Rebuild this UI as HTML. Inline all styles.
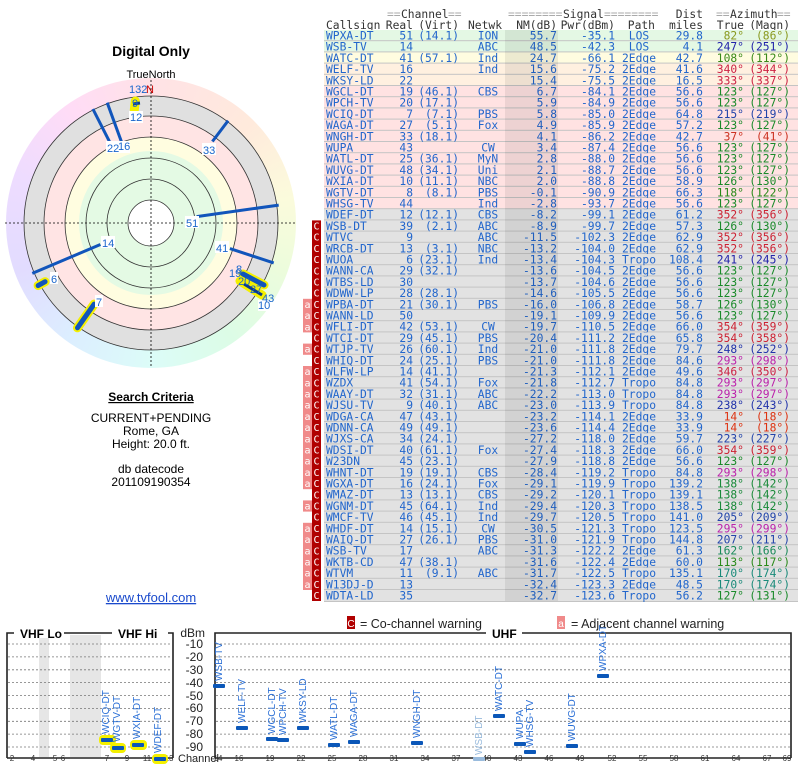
<!DOCTYPE html>
<html><head><meta charset="utf-8"><style>
body{margin:0;background:#fff;width:800px;height:768px;overflow:hidden;position:relative}
#rb{position:absolute;left:6px;top:78px;width:290px;height:290px;border-radius:50%;
background:conic-gradient(from 0deg,#ffe2e6,#ffeadc 45deg,#fbfbdc 80deg,#ecfcdc 110deg,#dcfce6 145deg,#dcfcf8 180deg,#dceeff 215deg,#e2dcff 250deg,#eedcff 290deg,#ffdcf6 325deg,#ffe2e6 360deg)}
svg{position:absolute;left:0;top:0}
.t text{font-family:"DejaVu Sans Mono","Liberation Mono",monospace;font-size:11.3px;fill:#2266cc}
.e{text-anchor:end}.m{text-anchor:middle}
.g{fill:#e4f8e4}.y{fill:#fffce0}.o{fill:#fff0e0}.p{fill:#ffe2e2}.q{fill:#e2e2e2}
.s{font-family:"Liberation Sans",sans-serif}
.lb{font-family:"Liberation Sans",sans-serif;font-size:11px;fill:#1a66cc}
.vl{font-family:"Liberation Sans",sans-serif;font-size:10px;fill:#2a6fd6}
.tk{font-family:"Liberation Sans",sans-serif;font-size:8px;fill:#333;text-anchor:middle}
.C rect{fill:#b00000}.A rect{fill:#f08a8a}
.C text,.A text{fill:#fff !important;font-size:10px !important;text-anchor:middle}
.h text{fill:#333}
.h .z{fill:#aaa}
</style></head><body>
<div id="rb"></div>
<svg width="800" height="768" viewBox="0 0 800 768">
<circle cx="151" cy="223" r="127" fill="#e0e0e0"/>
<circle cx="151" cy="223" r="107" fill="#ffe4e4"/>
<circle cx="151" cy="223" r="86" fill="#fffde0"/>
<circle cx="151" cy="223" r="72" fill="#e4fae4"/>
<circle cx="151" cy="223" r="23" fill="#fff"/>
<g fill="none" stroke="#333" stroke-width="0.8">
<circle cx="151" cy="223" r="23"/><circle cx="151" cy="223" r="44"/><circle cx="151" cy="223" r="65"/>
<circle cx="151" cy="223" r="86"/><circle cx="151" cy="223" r="107"/><circle cx="151" cy="223" r="127"/></g>
<g stroke="#000" stroke-width="0.8" stroke-dasharray="2,2"><line x1="5" y1="223" x2="297" y2="223"/><line x1="151" y1="80" x2="151" y2="366"/></g>
<g stroke="#1155bb" stroke-width="3">
<line x1="196.6" y1="216.6" x2="278.7" y2="205.1"/>
<line x1="100.4" y1="244.5" x2="32.3" y2="273.4"/>
<line x1="229.9" y1="248.6" x2="273.7" y2="262.9"/>
<line x1="212.4" y1="141.5" x2="228.1" y2="120.7"/>
<line x1="121.6" y1="142.2" x2="107.2" y2="102.7"/>
<line x1="110.1" y1="142.8" x2="92.9" y2="109"/>
</g>
<g stroke="#f4f000" stroke-width="9" stroke-linecap="round">
<line x1="45.1" y1="281.7" x2="38.1" y2="285.6"/>
<line x1="94.2" y1="304.1" x2="77.5" y2="327.8"/>
<line x1="243" y1="274" x2="264" y2="285"/>
<line x1="240" y1="281" x2="262" y2="295"/>
<line x1="135.3" y1="101" x2="134.3" y2="110"/>
</g>
<g stroke="#1155bb" stroke-width="5" stroke-linecap="round">
<line x1="45.1" y1="281.7" x2="38.1" y2="285.6"/>
<line x1="94.2" y1="304.1" x2="77.5" y2="327.8"/>
<line x1="243" y1="274" x2="264" y2="285"/>
</g>
<g stroke="#0a3c8a" stroke-width="3"><line x1="244" y1="284" x2="262" y2="295"/><line x1="133" y1="104" x2="140" y2="103"/></g>
<g class="lb">
<rect x="185" y="216" width="14" height="12" fill="#fff"/><text x="186" y="227">51</text>
<rect x="101" y="236" width="14" height="12" fill="#fff"/><text x="102" y="247">14</text>
<rect x="215" y="241" width="14" height="12" fill="#fff"/><text x="216" y="252">41</text>
<rect x="202" y="143" width="14" height="12" fill="#fff"/><text x="203" y="154">33</text>
<rect x="106" y="141" width="24" height="12" fill="#fff"/><text x="107" y="152">22</text><text x="118" y="150">16</text>
<rect x="50" y="272" width="8" height="12" fill="#fff"/><text x="51" y="283">6</text>
<rect x="95" y="295" width="8" height="12" fill="#fff"/><text x="96" y="306">7</text>
<text x="229" y="277">19</text><text x="236" y="273">8</text><text x="238" y="285">20</text><text x="250" y="293">27</text>
<rect x="258" y="300" width="14" height="11" fill="#fff"/><text x="258" y="309">10</text><text x="262" y="302">43</text>
<text x="129" y="93">132</text><text x="132" y="107">9</text>
<rect x="129" y="111" width="14" height="12" fill="#fff"/><text x="130" y="121">12</text>
<text x="146" y="93" style="fill:#cc0000">N</text>
</g>
<g class="s" text-anchor="middle">
<text x="151" y="56" font-size="14" font-weight="bold">Digital Only</text>
<text x="151" y="78" font-size="11">TrueNorth</text>
<text x="151" y="401" font-size="12" font-weight="bold" text-decoration="underline">Search Criteria</text>
<text x="151" y="422" font-size="12">CURRENT+PENDING</text>
<text x="151" y="435" font-size="12">Rome, GA</text>
<text x="151" y="448" font-size="12">Height: 20.0 ft.</text>
<text x="151" y="473" font-size="12">db datecode</text>
<text x="151" y="486" font-size="12">201109190354</text>
<text x="151" y="602" font-size="13" fill="#1a4acc" text-decoration="underline">www.tvfool.com</text>
</g>
<g class="t">
<g class="h">
<text x="387" y="18" class="z">==</text><text x="401" y="18">Channel</text><text x="448" y="18" class="z">==</text>
<text x="508" y="18" class="z">========</text><text x="563" y="18">Signal</text><text x="604" y="18" class="z">========</text>
<text x="703" y="18" class="e">Dist</text>
<text x="716" y="18" class="z">==</text><text x="730" y="18">Azimuth</text><text x="777" y="18" class="z">==</text>
<text x="326" y="29">Callsign</text><text x="413" y="29" class="e">Real</text><text x="459" y="29" class="e">(Virt)</text><text x="468" y="29">Netwk</text><text x="557" y="29" class="e">NM(dB)</text><text x="615" y="29" class="e">Pwr(dBm)</text><text x="655" y="29" class="e">Path</text><text x="703" y="29" class="e">miles</text><text x="744" y="29" class="e">True</text><text x="790" y="29" class="e">(Magn)</text>
</g>
<rect x="324" y="30" width="474" height="572" fill="#c4c4c4"/>
<g transform="translate(0,30)"><rect class="g" x="324" width="474" height="10.2"/><text x="326" y="9.5">WPXA-DT</text><text x="413" y="9.5" class="e">51</text><text x="459" y="9.5" class="e">(14.1)</text><text x="488" y="9.5" class="m">ION</text><text x="557" y="9.5" class="e">55.7</text><text x="615" y="9.5" class="e">-35.1</text><text x="639" y="9.5" class="m">LOS</text><text x="703" y="9.5" class="e">29.8</text><text x="744" y="9.5" class="e" style="fill:#8a9a20">82°</text><text x="790" y="9.5" class="e" style="fill:#8a9a20">(86°)</text></g>
<g transform="translate(0,41.2)"><rect class="g" x="324" width="474" height="10.2"/><text x="326" y="9.5">WSB-TV</text><text x="413" y="9.5" class="e">14</text><text x="488" y="9.5" class="m">ABC</text><text x="557" y="9.5" class="e">48.5</text><text x="615" y="9.5" class="e">-42.3</text><text x="639" y="9.5" class="m">LOS</text><text x="703" y="9.5" class="e">4.1</text><text x="744" y="9.5" class="e" style="fill:#2222aa">247°</text><text x="790" y="9.5" class="e" style="fill:#2222aa">(251°)</text></g>
<g transform="translate(0,52.4)"><rect class="y" x="324" width="474" height="10.2"/><text x="326" y="9.5">WATC-DT</text><text x="413" y="9.5" class="e">41</text><text x="459" y="9.5" class="e">(57.1)</text><text x="488" y="9.5" class="m">Ind</text><text x="557" y="9.5" class="e">24.7</text><text x="615" y="9.5" class="e">-66.1</text><text x="639" y="9.5" class="m">2Edge</text><text x="703" y="9.5" class="e">42.7</text><text x="744" y="9.5" class="e" style="fill:#3a8a1a">108°</text><text x="790" y="9.5" class="e" style="fill:#3a8a1a">(112°)</text></g>
<g transform="translate(0,63.6)"><rect class="o" x="324" width="474" height="10.2"/><text x="326" y="9.5">WELF-TV</text><text x="413" y="9.5" class="e">16</text><text x="488" y="9.5" class="m">Ind</text><text x="557" y="9.5" class="e">15.6</text><text x="615" y="9.5" class="e">-75.2</text><text x="639" y="9.5" class="m">2Edge</text><text x="703" y="9.5" class="e">41.6</text><text x="744" y="9.5" class="e" style="fill:#cc2244">340°</text><text x="790" y="9.5" class="e" style="fill:#cc2244">(344°)</text></g>
<g transform="translate(0,74.8)"><rect class="o" x="324" width="474" height="10.2"/><text x="326" y="9.5">WKSY-LD</text><text x="413" y="9.5" class="e">22</text><text x="557" y="9.5" class="e">15.4</text><text x="615" y="9.5" class="e">-75.5</text><text x="639" y="9.5" class="m">2Edge</text><text x="703" y="9.5" class="e">16.5</text><text x="744" y="9.5" class="e" style="fill:#cc2244">333°</text><text x="790" y="9.5" class="e" style="fill:#cc2244">(337°)</text></g>
<g transform="translate(0,86)"><rect class="p" x="324" width="474" height="10.2"/><text x="326" y="9.5">WGCL-DT</text><text x="413" y="9.5" class="e">19</text><text x="459" y="9.5" class="e">(46.1)</text><text x="488" y="9.5" class="m">CBS</text><text x="557" y="9.5" class="e">6.7</text><text x="615" y="9.5" class="e">-84.1</text><text x="639" y="9.5" class="m">2Edge</text><text x="703" y="9.5" class="e">56.6</text><text x="744" y="9.5" class="e" style="fill:#1a8a2a">123°</text><text x="790" y="9.5" class="e" style="fill:#1a8a2a">(127°)</text></g>
<g transform="translate(0,97.2)"><rect class="p" x="324" width="474" height="10.2"/><text x="326" y="9.5">WPCH-TV</text><text x="413" y="9.5" class="e">20</text><text x="459" y="9.5" class="e">(17.1)</text><text x="557" y="9.5" class="e">5.9</text><text x="615" y="9.5" class="e">-84.9</text><text x="639" y="9.5" class="m">2Edge</text><text x="703" y="9.5" class="e">56.6</text><text x="744" y="9.5" class="e" style="fill:#1a8a2a">123°</text><text x="790" y="9.5" class="e" style="fill:#1a8a2a">(127°)</text></g>
<g transform="translate(0,108.4)"><rect class="p" x="324" width="474" height="10.2"/><text x="326" y="9.5">WCIQ-DT</text><text x="413" y="9.5" class="e">7</text><text x="459" y="9.5" class="e">(7.1)</text><text x="488" y="9.5" class="m">PBS</text><text x="557" y="9.5" class="e">5.8</text><text x="615" y="9.5" class="e">-85.0</text><text x="639" y="9.5" class="m">2Edge</text><text x="703" y="9.5" class="e">64.8</text><text x="744" y="9.5" class="e" style="fill:#2244aa">215°</text><text x="790" y="9.5" class="e" style="fill:#2244aa">(219°)</text></g>
<g transform="translate(0,119.6)"><rect class="p" x="324" width="474" height="10.2"/><text x="326" y="9.5">WAGA-DT</text><text x="413" y="9.5" class="e">27</text><text x="459" y="9.5" class="e">(5.1)</text><text x="488" y="9.5" class="m">Fox</text><text x="557" y="9.5" class="e">4.9</text><text x="615" y="9.5" class="e">-85.9</text><text x="639" y="9.5" class="m">2Edge</text><text x="703" y="9.5" class="e">57.2</text><text x="744" y="9.5" class="e" style="fill:#1a8a2a">123°</text><text x="790" y="9.5" class="e" style="fill:#1a8a2a">(127°)</text></g>
<g transform="translate(0,130.8)"><rect class="p" x="324" width="474" height="10.2"/><text x="326" y="9.5">WNGH-DT</text><text x="413" y="9.5" class="e">33</text><text x="459" y="9.5" class="e">(18.1)</text><text x="557" y="9.5" class="e">4.1</text><text x="615" y="9.5" class="e">-86.2</text><text x="639" y="9.5" class="m">2Edge</text><text x="703" y="9.5" class="e">42.7</text><text x="744" y="9.5" class="e" style="fill:#cc3322">37°</text><text x="790" y="9.5" class="e" style="fill:#cc3322">(41°)</text></g>
<g transform="translate(0,142)"><rect class="p" x="324" width="474" height="10.2"/><text x="326" y="9.5">WUPA</text><text x="413" y="9.5" class="e">43</text><text x="488" y="9.5" class="m">CW</text><text x="557" y="9.5" class="e">3.4</text><text x="615" y="9.5" class="e">-87.4</text><text x="639" y="9.5" class="m">2Edge</text><text x="703" y="9.5" class="e">56.6</text><text x="744" y="9.5" class="e" style="fill:#1a8a2a">123°</text><text x="790" y="9.5" class="e" style="fill:#1a8a2a">(127°)</text></g>
<g transform="translate(0,153.2)"><rect class="p" x="324" width="474" height="10.2"/><text x="326" y="9.5">WATL-DT</text><text x="413" y="9.5" class="e">25</text><text x="459" y="9.5" class="e">(36.1)</text><text x="488" y="9.5" class="m">MyN</text><text x="557" y="9.5" class="e">2.8</text><text x="615" y="9.5" class="e">-88.0</text><text x="639" y="9.5" class="m">2Edge</text><text x="703" y="9.5" class="e">56.6</text><text x="744" y="9.5" class="e" style="fill:#1a8a2a">123°</text><text x="790" y="9.5" class="e" style="fill:#1a8a2a">(127°)</text></g>
<g transform="translate(0,164.4)"><rect class="p" x="324" width="474" height="10.2"/><text x="326" y="9.5">WUVG-DT</text><text x="413" y="9.5" class="e">48</text><text x="459" y="9.5" class="e">(34.1)</text><text x="488" y="9.5" class="m">Uni</text><text x="557" y="9.5" class="e">2.1</text><text x="615" y="9.5" class="e">-88.7</text><text x="639" y="9.5" class="m">2Edge</text><text x="703" y="9.5" class="e">56.6</text><text x="744" y="9.5" class="e" style="fill:#1a8a2a">123°</text><text x="790" y="9.5" class="e" style="fill:#1a8a2a">(127°)</text></g>
<g transform="translate(0,175.6)"><rect class="p" x="324" width="474" height="10.2"/><text x="326" y="9.5">WXIA-DT</text><text x="413" y="9.5" class="e">10</text><text x="459" y="9.5" class="e">(11.1)</text><text x="488" y="9.5" class="m">NBC</text><text x="557" y="9.5" class="e">2.0</text><text x="615" y="9.5" class="e">-88.8</text><text x="639" y="9.5" class="m">2Edge</text><text x="703" y="9.5" class="e">58.9</text><text x="744" y="9.5" class="e" style="fill:#1a8a2a">126°</text><text x="790" y="9.5" class="e" style="fill:#1a8a2a">(130°)</text></g>
<g transform="translate(0,186.8)"><rect class="p" x="324" width="474" height="10.2"/><text x="326" y="9.5">WGTV-DT</text><text x="413" y="9.5" class="e">8</text><text x="459" y="9.5" class="e">(8.1)</text><text x="488" y="9.5" class="m">PBS</text><text x="557" y="9.5" class="e">-0.1</text><text x="615" y="9.5" class="e">-90.9</text><text x="639" y="9.5" class="m">2Edge</text><text x="703" y="9.5" class="e">66.3</text><text x="744" y="9.5" class="e" style="fill:#2a8a1a">118°</text><text x="790" y="9.5" class="e" style="fill:#2a8a1a">(122°)</text></g>
<g transform="translate(0,198)"><rect class="p" x="324" width="474" height="10.2"/><text x="326" y="9.5">WHSG-TV</text><text x="413" y="9.5" class="e">44</text><text x="488" y="9.5" class="m">Ind</text><text x="557" y="9.5" class="e">-2.8</text><text x="615" y="9.5" class="e">-93.7</text><text x="639" y="9.5" class="m">2Edge</text><text x="703" y="9.5" class="e">56.6</text><text x="744" y="9.5" class="e" style="fill:#1a8a2a">123°</text><text x="790" y="9.5" class="e" style="fill:#1a8a2a">(127°)</text></g>
<g transform="translate(0,209.2)"><rect class="q" x="324" width="474" height="10.2"/><text x="326" y="9.5">WDEF-DT</text><text x="413" y="9.5" class="e">12</text><text x="459" y="9.5" class="e">(12.1)</text><text x="488" y="9.5" class="m">CBS</text><text x="557" y="9.5" class="e">-8.2</text><text x="615" y="9.5" class="e">-99.1</text><text x="639" y="9.5" class="m">2Edge</text><text x="703" y="9.5" class="e">61.2</text><text x="744" y="9.5" class="e" style="fill:#cc2233">352°</text><text x="790" y="9.5" class="e" style="fill:#cc2233">(356°)</text></g>
<g transform="translate(0,220.4)"><rect class="q" x="324" width="474" height="10.2"/><text x="326" y="9.5">WSB-DT</text><text x="413" y="9.5" class="e">39</text><text x="459" y="9.5" class="e">(2.1)</text><text x="488" y="9.5" class="m">ABC</text><text x="557" y="9.5" class="e">-8.9</text><text x="615" y="9.5" class="e">-99.7</text><text x="639" y="9.5" class="m">2Edge</text><text x="703" y="9.5" class="e">57.3</text><text x="744" y="9.5" class="e" style="fill:#1a8a2a">126°</text><text x="790" y="9.5" class="e" style="fill:#1a8a2a">(130°)</text></g>
<g transform="translate(0,231.6)"><rect class="q" x="324" width="474" height="10.2"/><text x="326" y="9.5">WTVC</text><text x="413" y="9.5" class="e">9</text><text x="488" y="9.5" class="m">ABC</text><text x="557" y="9.5" class="e">-11.5</text><text x="615" y="9.5" class="e">-102.3</text><text x="639" y="9.5" class="m">2Edge</text><text x="703" y="9.5" class="e">62.9</text><text x="744" y="9.5" class="e" style="fill:#cc2233">352°</text><text x="790" y="9.5" class="e" style="fill:#cc2233">(356°)</text></g>
<g transform="translate(0,242.8)"><rect class="q" x="324" width="474" height="10.2"/><text x="326" y="9.5">WRCB-DT</text><text x="413" y="9.5" class="e">13</text><text x="459" y="9.5" class="e">(3.1)</text><text x="488" y="9.5" class="m">NBC</text><text x="557" y="9.5" class="e">-13.2</text><text x="615" y="9.5" class="e">-104.0</text><text x="639" y="9.5" class="m">2Edge</text><text x="703" y="9.5" class="e">62.9</text><text x="744" y="9.5" class="e" style="fill:#cc2233">352°</text><text x="790" y="9.5" class="e" style="fill:#cc2233">(356°)</text></g>
<g transform="translate(0,254)"><rect class="q" x="324" width="474" height="10.2"/><text x="326" y="9.5">WUOA</text><text x="413" y="9.5" class="e">6</text><text x="459" y="9.5" class="e">(23.1)</text><text x="488" y="9.5" class="m">Ind</text><text x="557" y="9.5" class="e">-13.4</text><text x="615" y="9.5" class="e">-104.3</text><text x="639" y="9.5" class="m">Tropo</text><text x="703" y="9.5" class="e">108.4</text><text x="744" y="9.5" class="e" style="fill:#2222aa">241°</text><text x="790" y="9.5" class="e" style="fill:#2222aa">(245°)</text></g>
<g transform="translate(0,265.2)"><rect class="q" x="324" width="474" height="10.2"/><text x="326" y="9.5">WANN-CA</text><text x="413" y="9.5" class="e">29</text><text x="459" y="9.5" class="e">(32.1)</text><text x="557" y="9.5" class="e">-13.6</text><text x="615" y="9.5" class="e">-104.5</text><text x="639" y="9.5" class="m">2Edge</text><text x="703" y="9.5" class="e">56.6</text><text x="744" y="9.5" class="e" style="fill:#1a8a2a">123°</text><text x="790" y="9.5" class="e" style="fill:#1a8a2a">(127°)</text></g>
<g transform="translate(0,276.4)"><rect class="q" x="324" width="474" height="10.2"/><text x="326" y="9.5">WTBS-LD</text><text x="413" y="9.5" class="e">30</text><text x="557" y="9.5" class="e">-13.7</text><text x="615" y="9.5" class="e">-104.6</text><text x="639" y="9.5" class="m">2Edge</text><text x="703" y="9.5" class="e">56.6</text><text x="744" y="9.5" class="e" style="fill:#1a8a2a">123°</text><text x="790" y="9.5" class="e" style="fill:#1a8a2a">(127°)</text></g>
<g transform="translate(0,287.6)"><rect class="q" x="324" width="474" height="10.2"/><text x="326" y="9.5">WDWW-LP</text><text x="413" y="9.5" class="e">28</text><text x="459" y="9.5" class="e">(28.1)</text><text x="557" y="9.5" class="e">-14.6</text><text x="615" y="9.5" class="e">-105.5</text><text x="639" y="9.5" class="m">2Edge</text><text x="703" y="9.5" class="e">56.6</text><text x="744" y="9.5" class="e" style="fill:#1a8a2a">123°</text><text x="790" y="9.5" class="e" style="fill:#1a8a2a">(127°)</text></g>
<g transform="translate(0,298.8)"><rect class="q" x="324" width="474" height="10.2"/><text x="326" y="9.5">WPBA-DT</text><text x="413" y="9.5" class="e">21</text><text x="459" y="9.5" class="e">(30.1)</text><text x="488" y="9.5" class="m">PBS</text><text x="557" y="9.5" class="e">-16.0</text><text x="615" y="9.5" class="e">-106.8</text><text x="639" y="9.5" class="m">2Edge</text><text x="703" y="9.5" class="e">58.7</text><text x="744" y="9.5" class="e" style="fill:#1a8a2a">126°</text><text x="790" y="9.5" class="e" style="fill:#1a8a2a">(130°)</text></g>
<g transform="translate(0,310)"><rect class="q" x="324" width="474" height="10.2"/><text x="326" y="9.5">WANN-LD</text><text x="413" y="9.5" class="e">50</text><text x="557" y="9.5" class="e">-19.1</text><text x="615" y="9.5" class="e">-109.9</text><text x="639" y="9.5" class="m">2Edge</text><text x="703" y="9.5" class="e">56.6</text><text x="744" y="9.5" class="e" style="fill:#1a8a2a">123°</text><text x="790" y="9.5" class="e" style="fill:#1a8a2a">(127°)</text></g>
<g transform="translate(0,321.2)"><rect class="q" x="324" width="474" height="10.2"/><text x="326" y="9.5">WFLI-DT</text><text x="413" y="9.5" class="e">42</text><text x="459" y="9.5" class="e">(53.1)</text><text x="488" y="9.5" class="m">CW</text><text x="557" y="9.5" class="e">-19.7</text><text x="615" y="9.5" class="e">-110.5</text><text x="639" y="9.5" class="m">2Edge</text><text x="703" y="9.5" class="e">66.0</text><text x="744" y="9.5" class="e" style="fill:#cc2233">354°</text><text x="790" y="9.5" class="e" style="fill:#cc2233">(359°)</text></g>
<g transform="translate(0,332.4)"><rect class="q" x="324" width="474" height="10.2"/><text x="326" y="9.5">WTCI-DT</text><text x="413" y="9.5" class="e">29</text><text x="459" y="9.5" class="e">(45.1)</text><text x="488" y="9.5" class="m">PBS</text><text x="557" y="9.5" class="e">-20.4</text><text x="615" y="9.5" class="e">-111.2</text><text x="639" y="9.5" class="m">2Edge</text><text x="703" y="9.5" class="e">65.8</text><text x="744" y="9.5" class="e" style="fill:#cc2233">354°</text><text x="790" y="9.5" class="e" style="fill:#cc2233">(358°)</text></g>
<g transform="translate(0,343.6)"><rect class="q" x="324" width="474" height="10.2"/><text x="326" y="9.5">WTJP-TV</text><text x="413" y="9.5" class="e">26</text><text x="459" y="9.5" class="e">(60.1)</text><text x="488" y="9.5" class="m">Ind</text><text x="557" y="9.5" class="e">-21.0</text><text x="615" y="9.5" class="e">-111.8</text><text x="639" y="9.5" class="m">2Edge</text><text x="703" y="9.5" class="e">79.7</text><text x="744" y="9.5" class="e" style="fill:#2233aa">248°</text><text x="790" y="9.5" class="e" style="fill:#2233aa">(252°)</text></g>
<g transform="translate(0,354.8)"><rect class="q" x="324" width="474" height="10.2"/><text x="326" y="9.5">WHIQ-DT</text><text x="413" y="9.5" class="e">24</text><text x="459" y="9.5" class="e">(25.1)</text><text x="488" y="9.5" class="m">PBS</text><text x="557" y="9.5" class="e">-21.0</text><text x="615" y="9.5" class="e">-111.8</text><text x="639" y="9.5" class="m">2Edge</text><text x="703" y="9.5" class="e">84.6</text><text x="744" y="9.5" class="e" style="fill:#bb22aa">293°</text><text x="790" y="9.5" class="e" style="fill:#bb22aa">(298°)</text></g>
<g transform="translate(0,366)"><rect class="q" x="324" width="474" height="10.2"/><text x="326" y="9.5">WLFW-LP</text><text x="413" y="9.5" class="e">14</text><text x="459" y="9.5" class="e">(41.1)</text><text x="557" y="9.5" class="e">-21.3</text><text x="615" y="9.5" class="e">-112.1</text><text x="639" y="9.5" class="m">2Edge</text><text x="703" y="9.5" class="e">49.6</text><text x="744" y="9.5" class="e" style="fill:#cc2244">346°</text><text x="790" y="9.5" class="e" style="fill:#cc2244">(350°)</text></g>
<g transform="translate(0,377.2)"><rect class="q" x="324" width="474" height="10.2"/><text x="326" y="9.5">WZDX</text><text x="413" y="9.5" class="e">41</text><text x="459" y="9.5" class="e">(54.1)</text><text x="488" y="9.5" class="m">Fox</text><text x="557" y="9.5" class="e">-21.8</text><text x="615" y="9.5" class="e">-112.7</text><text x="639" y="9.5" class="m">Tropo</text><text x="703" y="9.5" class="e">84.8</text><text x="744" y="9.5" class="e" style="fill:#bb22aa">293°</text><text x="790" y="9.5" class="e" style="fill:#bb22aa">(297°)</text></g>
<g transform="translate(0,388.4)"><rect class="q" x="324" width="474" height="10.2"/><text x="326" y="9.5">WAAY-DT</text><text x="413" y="9.5" class="e">32</text><text x="459" y="9.5" class="e">(31.1)</text><text x="488" y="9.5" class="m">ABC</text><text x="557" y="9.5" class="e">-22.2</text><text x="615" y="9.5" class="e">-113.0</text><text x="639" y="9.5" class="m">Tropo</text><text x="703" y="9.5" class="e">84.8</text><text x="744" y="9.5" class="e" style="fill:#bb22aa">293°</text><text x="790" y="9.5" class="e" style="fill:#bb22aa">(297°)</text></g>
<g transform="translate(0,399.6)"><rect class="q" x="324" width="474" height="10.2"/><text x="326" y="9.5">WJSU-TV</text><text x="413" y="9.5" class="e">9</text><text x="459" y="9.5" class="e">(40.1)</text><text x="488" y="9.5" class="m">ABC</text><text x="557" y="9.5" class="e">-23.0</text><text x="615" y="9.5" class="e">-113.9</text><text x="639" y="9.5" class="m">Tropo</text><text x="703" y="9.5" class="e">84.8</text><text x="744" y="9.5" class="e" style="fill:#2233aa">238°</text><text x="790" y="9.5" class="e" style="fill:#2233aa">(243°)</text></g>
<g transform="translate(0,410.8)"><rect class="q" x="324" width="474" height="10.2"/><text x="326" y="9.5">WDGA-CA</text><text x="413" y="9.5" class="e">47</text><text x="459" y="9.5" class="e">(43.1)</text><text x="557" y="9.5" class="e">-23.2</text><text x="615" y="9.5" class="e">-114.1</text><text x="639" y="9.5" class="m">2Edge</text><text x="703" y="9.5" class="e">33.9</text><text x="744" y="9.5" class="e" style="fill:#dd3311">14°</text><text x="790" y="9.5" class="e" style="fill:#dd3311">(18°)</text></g>
<g transform="translate(0,422)"><rect class="q" x="324" width="474" height="10.2"/><text x="326" y="9.5">WDNN-CA</text><text x="413" y="9.5" class="e">49</text><text x="459" y="9.5" class="e">(49.1)</text><text x="557" y="9.5" class="e">-23.6</text><text x="615" y="9.5" class="e">-114.4</text><text x="639" y="9.5" class="m">2Edge</text><text x="703" y="9.5" class="e">33.9</text><text x="744" y="9.5" class="e" style="fill:#dd3311">14°</text><text x="790" y="9.5" class="e" style="fill:#dd3311">(18°)</text></g>
<g transform="translate(0,433.2)"><rect class="q" x="324" width="474" height="10.2"/><text x="326" y="9.5">WJXS-CA</text><text x="413" y="9.5" class="e">34</text><text x="459" y="9.5" class="e">(24.1)</text><text x="557" y="9.5" class="e">-27.2</text><text x="615" y="9.5" class="e">-118.0</text><text x="639" y="9.5" class="m">2Edge</text><text x="703" y="9.5" class="e">59.7</text><text x="744" y="9.5" class="e" style="fill:#2244aa">223°</text><text x="790" y="9.5" class="e" style="fill:#2244aa">(227°)</text></g>
<g transform="translate(0,444.4)"><rect class="q" x="324" width="474" height="10.2"/><text x="326" y="9.5">WDSI-DT</text><text x="413" y="9.5" class="e">40</text><text x="459" y="9.5" class="e">(61.1)</text><text x="488" y="9.5" class="m">Fox</text><text x="557" y="9.5" class="e">-27.4</text><text x="615" y="9.5" class="e">-118.3</text><text x="639" y="9.5" class="m">2Edge</text><text x="703" y="9.5" class="e">66.0</text><text x="744" y="9.5" class="e" style="fill:#cc2233">354°</text><text x="790" y="9.5" class="e" style="fill:#cc2233">(359°)</text></g>
<g transform="translate(0,455.6)"><rect class="q" x="324" width="474" height="10.2"/><text x="326" y="9.5">W23DN</text><text x="413" y="9.5" class="e">45</text><text x="459" y="9.5" class="e">(23.1)</text><text x="557" y="9.5" class="e">-27.9</text><text x="615" y="9.5" class="e">-118.8</text><text x="639" y="9.5" class="m">2Edge</text><text x="703" y="9.5" class="e">56.6</text><text x="744" y="9.5" class="e" style="fill:#1a8a2a">123°</text><text x="790" y="9.5" class="e" style="fill:#1a8a2a">(127°)</text></g>
<g transform="translate(0,466.8)"><rect class="q" x="324" width="474" height="10.2"/><text x="326" y="9.5">WHNT-DT</text><text x="413" y="9.5" class="e">19</text><text x="459" y="9.5" class="e">(19.1)</text><text x="488" y="9.5" class="m">CBS</text><text x="557" y="9.5" class="e">-28.4</text><text x="615" y="9.5" class="e">-119.2</text><text x="639" y="9.5" class="m">Tropo</text><text x="703" y="9.5" class="e">84.8</text><text x="744" y="9.5" class="e" style="fill:#bb22aa">293°</text><text x="790" y="9.5" class="e" style="fill:#bb22aa">(298°)</text></g>
<g transform="translate(0,478)"><rect class="q" x="324" width="474" height="10.2"/><text x="326" y="9.5">WGXA-DT</text><text x="413" y="9.5" class="e">16</text><text x="459" y="9.5" class="e">(24.1)</text><text x="488" y="9.5" class="m">Fox</text><text x="557" y="9.5" class="e">-29.1</text><text x="615" y="9.5" class="e">-119.9</text><text x="639" y="9.5" class="m">Tropo</text><text x="703" y="9.5" class="e">139.2</text><text x="744" y="9.5" class="e" style="fill:#1a8a3a">138°</text><text x="790" y="9.5" class="e" style="fill:#1a8a3a">(142°)</text></g>
<g transform="translate(0,489.2)"><rect class="q" x="324" width="474" height="10.2"/><text x="326" y="9.5">WMAZ-DT</text><text x="413" y="9.5" class="e">13</text><text x="459" y="9.5" class="e">(13.1)</text><text x="488" y="9.5" class="m">CBS</text><text x="557" y="9.5" class="e">-29.2</text><text x="615" y="9.5" class="e">-120.1</text><text x="639" y="9.5" class="m">Tropo</text><text x="703" y="9.5" class="e">139.1</text><text x="744" y="9.5" class="e" style="fill:#1a8a3a">138°</text><text x="790" y="9.5" class="e" style="fill:#1a8a3a">(142°)</text></g>
<g transform="translate(0,500.4)"><rect class="q" x="324" width="474" height="10.2"/><text x="326" y="9.5">WGNM-DT</text><text x="413" y="9.5" class="e">45</text><text x="459" y="9.5" class="e">(64.1)</text><text x="488" y="9.5" class="m">Ind</text><text x="557" y="9.5" class="e">-29.4</text><text x="615" y="9.5" class="e">-120.3</text><text x="639" y="9.5" class="m">Tropo</text><text x="703" y="9.5" class="e">138.5</text><text x="744" y="9.5" class="e" style="fill:#1a8a3a">138°</text><text x="790" y="9.5" class="e" style="fill:#1a8a3a">(142°)</text></g>
<g transform="translate(0,511.6)"><rect class="q" x="324" width="474" height="10.2"/><text x="326" y="9.5">WMCF-TV</text><text x="413" y="9.5" class="e">46</text><text x="459" y="9.5" class="e">(45.1)</text><text x="488" y="9.5" class="m">Ind</text><text x="557" y="9.5" class="e">-29.7</text><text x="615" y="9.5" class="e">-120.5</text><text x="639" y="9.5" class="m">Tropo</text><text x="703" y="9.5" class="e">141.0</text><text x="744" y="9.5" class="e" style="fill:#2244aa">205°</text><text x="790" y="9.5" class="e" style="fill:#2244aa">(209°)</text></g>
<g transform="translate(0,522.8)"><rect class="q" x="324" width="474" height="10.2"/><text x="326" y="9.5">WHDF-DT</text><text x="413" y="9.5" class="e">14</text><text x="459" y="9.5" class="e">(15.1)</text><text x="488" y="9.5" class="m">CW</text><text x="557" y="9.5" class="e">-30.5</text><text x="615" y="9.5" class="e">-121.3</text><text x="639" y="9.5" class="m">Tropo</text><text x="703" y="9.5" class="e">123.5</text><text x="744" y="9.5" class="e" style="fill:#bb22aa">295°</text><text x="790" y="9.5" class="e" style="fill:#bb22aa">(299°)</text></g>
<g transform="translate(0,534)"><rect class="q" x="324" width="474" height="10.2"/><text x="326" y="9.5">WAIQ-DT</text><text x="413" y="9.5" class="e">27</text><text x="459" y="9.5" class="e">(26.1)</text><text x="488" y="9.5" class="m">PBS</text><text x="557" y="9.5" class="e">-31.0</text><text x="615" y="9.5" class="e">-121.9</text><text x="639" y="9.5" class="m">Tropo</text><text x="703" y="9.5" class="e">144.8</text><text x="744" y="9.5" class="e" style="fill:#2244aa">207°</text><text x="790" y="9.5" class="e" style="fill:#2244aa">(211°)</text></g>
<g transform="translate(0,545.2)"><rect class="q" x="324" width="474" height="10.2"/><text x="326" y="9.5">WSB-TV</text><text x="413" y="9.5" class="e">17</text><text x="488" y="9.5" class="m">ABC</text><text x="557" y="9.5" class="e">-31.3</text><text x="615" y="9.5" class="e">-122.2</text><text x="639" y="9.5" class="m">2Edge</text><text x="703" y="9.5" class="e">61.3</text><text x="744" y="9.5" class="e" style="fill:#1a8a5a">162°</text><text x="790" y="9.5" class="e" style="fill:#1a8a5a">(166°)</text></g>
<g transform="translate(0,556.4)"><rect class="q" x="324" width="474" height="10.2"/><text x="326" y="9.5">WKTB-CD</text><text x="413" y="9.5" class="e">47</text><text x="459" y="9.5" class="e">(38.1)</text><text x="557" y="9.5" class="e">-31.6</text><text x="615" y="9.5" class="e">-122.4</text><text x="639" y="9.5" class="m">2Edge</text><text x="703" y="9.5" class="e">60.0</text><text x="744" y="9.5" class="e" style="fill:#2a8a1a">113°</text><text x="790" y="9.5" class="e" style="fill:#2a8a1a">(117°)</text></g>
<g transform="translate(0,567.6)"><rect class="q" x="324" width="474" height="10.2"/><text x="326" y="9.5">WTVM</text><text x="413" y="9.5" class="e">11</text><text x="459" y="9.5" class="e">(9.1)</text><text x="488" y="9.5" class="m">ABC</text><text x="557" y="9.5" class="e">-31.7</text><text x="615" y="9.5" class="e">-122.5</text><text x="639" y="9.5" class="m">Tropo</text><text x="703" y="9.5" class="e">135.1</text><text x="744" y="9.5" class="e" style="fill:#1a8a7a">170°</text><text x="790" y="9.5" class="e" style="fill:#1a8a7a">(174°)</text></g>
<g transform="translate(0,578.8)"><rect class="q" x="324" width="474" height="10.2"/><text x="326" y="9.5">W13DJ-D</text><text x="413" y="9.5" class="e">13</text><text x="557" y="9.5" class="e">-32.4</text><text x="615" y="9.5" class="e">-123.3</text><text x="639" y="9.5" class="m">2Edge</text><text x="703" y="9.5" class="e">48.5</text><text x="744" y="9.5" class="e" style="fill:#1a8a7a">170°</text><text x="790" y="9.5" class="e" style="fill:#1a8a7a">(174°)</text></g>
<g transform="translate(0,590)"><rect class="q" x="324" width="474" height="11"/><text x="326" y="9.5">WDTA-LD</text><text x="413" y="9.5" class="e">35</text><text x="557" y="9.5" class="e">-32.7</text><text x="615" y="9.5" class="e">-123.6</text><text x="639" y="9.5" class="m">Tropo</text><text x="703" y="9.5" class="e">56.2</text><text x="744" y="9.5" class="e" style="fill:#1a8a2a">127°</text><text x="790" y="9.5" class="e" style="fill:#1a8a2a">(131°)</text></g>
<rect x="505" y="30" width="53" height="571" fill="#000" fill-opacity="0.07"/>
<g class="C">
<rect x="312" y="220.4" width="9" height="380.6"/>
<text x="316.5" y="229.5">C</text><text x="316.5" y="240.7">C</text><text x="316.5" y="251.9">C</text><text x="316.5" y="263.1">C</text><text x="316.5" y="274.3">C</text><text x="316.5" y="285.5">C</text><text x="316.5" y="296.7">C</text><text x="316.5" y="307.9">C</text><text x="316.5" y="319.1">C</text><text x="316.5" y="330.3">C</text><text x="316.5" y="341.5">C</text><text x="316.5" y="352.7">C</text><text x="316.5" y="363.9">C</text><text x="316.5" y="375.1">C</text><text x="316.5" y="386.3">C</text><text x="316.5" y="397.5">C</text><text x="316.5" y="408.7">C</text><text x="316.5" y="419.9">C</text><text x="316.5" y="431.1">C</text><text x="316.5" y="442.3">C</text><text x="316.5" y="453.5">C</text><text x="316.5" y="464.7">C</text><text x="316.5" y="475.9">C</text><text x="316.5" y="487.1">C</text><text x="316.5" y="498.3">C</text><text x="316.5" y="509.5">C</text><text x="316.5" y="520.7">C</text><text x="316.5" y="531.9">C</text><text x="316.5" y="543.1">C</text><text x="316.5" y="554.3">C</text><text x="316.5" y="565.5">C</text><text x="316.5" y="576.7">C</text><text x="316.5" y="587.9">C</text><text x="316.5" y="599.1">C</text>
</g>
<g class="A">
<rect x="303" y="298.8" width="9" height="33.6"/><rect x="303" y="343.6" width="9" height="11.2"/><rect x="303" y="366" width="9" height="123.2"/><rect x="303" y="500.4" width="9" height="11.2"/><rect x="303" y="522.8" width="9" height="67.2"/>
<text x="307.5" y="307.9">a</text><text x="307.5" y="319.1">a</text><text x="307.5" y="330.3">a</text><text x="307.5" y="352.7">a</text><text x="307.5" y="375.1">a</text><text x="307.5" y="386.3">a</text><text x="307.5" y="397.5">a</text><text x="307.5" y="408.7">a</text><text x="307.5" y="419.9">a</text><text x="307.5" y="431.1">a</text><text x="307.5" y="442.3">a</text><text x="307.5" y="453.5">a</text><text x="307.5" y="464.7">a</text><text x="307.5" y="475.9">a</text><text x="307.5" y="487.1">a</text><text x="307.5" y="509.5">a</text><text x="307.5" y="531.9">a</text><text x="307.5" y="543.1">a</text><text x="307.5" y="554.3">a</text><text x="307.5" y="565.5">a</text><text x="307.5" y="576.7">a</text><text x="307.5" y="587.9">a</text>
</g>
</g>
<rect x="347" y="616" width="8" height="13" fill="#b00000"/><text x="351" y="627" class="s" font-size="10" fill="#fff" text-anchor="middle">C</text>
<text x="360" y="628" class="s" font-size="12.5" fill="#222">= Co-channel warning</text>
<rect x="557" y="616" width="8" height="13" fill="#f08a8a"/><text x="561" y="627" class="s" font-size="10" fill="#fff" text-anchor="middle">a</text>
<text x="571" y="628" class="s" font-size="12.5" fill="#222">= Adjacent channel warning</text>
<rect x="39" y="635" width="10" height="122" fill="#e6e6e6"/><rect x="70" y="635" width="31" height="122" fill="#e6e6e6"/>
<g stroke="#777" stroke-width="0.8" stroke-dasharray="2,2">
<line x1="8" y1="644" x2="172" y2="644"/><line x1="8" y1="656.9" x2="172" y2="656.9"/><line x1="8" y1="669.8" x2="172" y2="669.8"/><line x1="8" y1="682.6" x2="172" y2="682.6"/><line x1="8" y1="695.5" x2="172" y2="695.5"/><line x1="8" y1="708.4" x2="172" y2="708.4"/><line x1="8" y1="721.3" x2="172" y2="721.3"/><line x1="8" y1="734.1" x2="172" y2="734.1"/><line x1="8" y1="747" x2="172" y2="747"/>
<line x1="216" y1="644" x2="790" y2="644"/><line x1="216" y1="656.9" x2="790" y2="656.9"/><line x1="216" y1="669.8" x2="790" y2="669.8"/><line x1="216" y1="682.6" x2="790" y2="682.6"/><line x1="216" y1="695.5" x2="790" y2="695.5"/><line x1="216" y1="708.4" x2="790" y2="708.4"/><line x1="216" y1="721.3" x2="790" y2="721.3"/><line x1="216" y1="734.1" x2="790" y2="734.1"/><line x1="216" y1="747" x2="790" y2="747"/>
</g>
<g fill="none" stroke="#222" stroke-width="1.6">
<path d="M7,758 V633 H173 V758"/><path d="M215,758 V633 H791 V758"/>
<line x1="7" y1="758" x2="173" y2="758"/><line x1="215" y1="758" x2="791" y2="758"/>
</g>
<rect x="14" y="626" width="50" height="12" fill="#fff"/><text x="20" y="638" class="s" font-size="12" font-weight="bold">VHF Lo</text>
<rect x="112" y="626" width="56" height="12" fill="#fff"/><text x="118" y="638" class="s" font-size="12" font-weight="bold">VHF Hi</text>
<rect x="486" y="626" width="36" height="12" fill="#fff"/><text x="492" y="638" class="s" font-size="12" font-weight="bold">UHF</text>
<g class="s" font-size="12" text-anchor="end" fill="#222">
<text x="205" y="637">dBm</text><text x="203" y="648">-10</text><text x="203" y="661">-20</text><text x="203" y="674">-30</text><text x="203" y="687">-40</text><text x="203" y="700">-50</text><text x="203" y="712">-60</text><text x="203" y="725">-70</text><text x="203" y="738">-80</text><text x="203" y="751">-90</text>
</g>
<text x="178" y="762" class="s" font-size="11" fill="#222">Channel</text>
<g class="tk">
<text x="12" y="761">2</text><text x="33" y="761">4</text><text x="55" y="761">5</text><text x="63" y="761">6</text><text x="107" y="761">7</text><text x="127" y="761">9</text><text x="147" y="761">11</text><text x="169" y="761">13</text>
<text x="218" y="761">14</text><text x="239" y="761">16</text><text x="270" y="761">19</text><text x="301" y="761">22</text><text x="332" y="761">25</text><text x="363" y="761">28</text><text x="394" y="761">31</text><text x="425" y="761">34</text><text x="456" y="761">37</text><text x="487" y="761">40</text><text x="518" y="761">43</text><text x="549" y="761">46</text><text x="580" y="761">49</text><text x="612" y="761">52</text><text x="643" y="761">55</text><text x="674" y="761">58</text><text x="705" y="761">61</text><text x="736" y="761">64</text><text x="767" y="761">67</text><text x="787" y="761">69</text>
</g>
<g fill="#f4f000"><rect x="99" y="735" width="17" height="10" rx="4"/><rect x="110" y="743" width="16" height="10" rx="4"/><rect x="130" y="740" width="17" height="10" rx="4"/><rect x="152" y="754" width="16" height="10" rx="4"/></g>
<g fill="#0b57b8">
<rect x="101" y="738" width="12" height="4" rx="1"/><rect x="112" y="746" width="12" height="4" rx="1"/><rect x="132" y="743" width="12" height="4" rx="1"/><rect x="154" y="757" width="12" height="4" rx="1"/>
<rect x="213" y="684" width="12" height="4" rx="1"/><rect x="236" y="726" width="12" height="4" rx="1"/><rect x="266" y="737" width="12" height="4" rx="1"/><rect x="277" y="738" width="12" height="4" rx="1"/><rect x="297" y="726" width="12" height="4" rx="1"/><rect x="328" y="743" width="12" height="4" rx="1"/><rect x="348" y="740" width="12" height="4" rx="1"/><rect x="411" y="741" width="12" height="4" rx="1"/><rect x="493" y="714" width="12" height="4" rx="1"/><rect x="514" y="742" width="12" height="4" rx="1"/><rect x="524" y="750" width="12" height="4" rx="1"/><rect x="566" y="744" width="12" height="4" rx="1"/><rect x="597" y="674" width="12" height="4" rx="1"/>
</g>
<rect x="473" y="757" width="12" height="4" rx="1" fill="#99bbdd"/>
<g class="vl">
<text transform="translate(109,734) rotate(-90)">WCIQ-DT</text>
<text transform="translate(120,742) rotate(-90)">WGTV-DT</text>
<text transform="translate(140,739) rotate(-90)">WXIA-DT</text>
<text transform="translate(161,753) rotate(-90)">WDEF-DT</text>
<text transform="translate(222,681) rotate(-90)">WSB-TV</text>
<text transform="translate(245,723) rotate(-90)">WELF-TV</text>
<text transform="translate(275,734) rotate(-90)">WGCL-DT</text>
<text transform="translate(286,735) rotate(-90)">WPCH-TV</text>
<text transform="translate(306,723) rotate(-90)">WKSY-LD</text>
<text transform="translate(337,740) rotate(-90)">WATL-DT</text>
<text transform="translate(357,737) rotate(-90)">WAGA-DT</text>
<text transform="translate(420,738) rotate(-90)">WNGH-DT</text>
<text transform="translate(482,755) rotate(-90)" style="fill:#99bbdd">WSB-DT</text>
<text transform="translate(502,711) rotate(-90)">WATC-DT</text>
<text transform="translate(523,739) rotate(-90)">WUPA</text>
<text transform="translate(533,747) rotate(-90)">WHSG-TV</text>
<text transform="translate(575,741) rotate(-90)">WUVG-DT</text>
<text transform="translate(606,671) rotate(-90)">WPXA-DT</text>
</g>
</svg>
</body></html>
